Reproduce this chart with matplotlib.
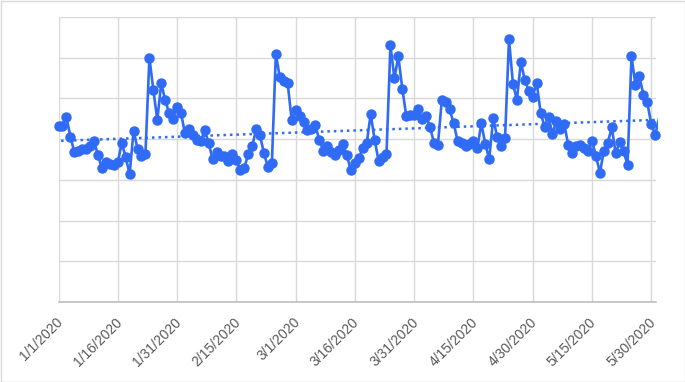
import numpy as np
import pandas as pd
import matplotlib
matplotlib.use("Agg")
from matplotlib import pyplot as plt
from matplotlib.patches import Rectangle
import matplotlib.transforms as mtransforms

# daily values (gridline spacing = 1 unit)
values = [
    4.33, 4.32, 4.55, 4.06, 3.69, 3.72, 3.76, 3.75, 3.84, 3.96,
    3.60, 3.28, 3.45, 3.39, 3.37, 3.43, 3.90, 3.56, 3.14, 4.21,
    3.76, 3.59, 3.64, 6.00, 5.21, 4.47, 5.37, 4.96, 4.64, 4.50,
    4.80, 4.64, 4.14, 4.24, 4.11, 3.97, 3.95, 4.23, 3.90, 3.51,
    3.69, 3.59, 3.58, 3.47, 3.63, 3.49, 3.24, 3.28, 3.64, 3.82,
    4.24, 4.09, 3.65, 3.31, 3.42, 6.09, 5.52, 5.42, 5.37, 4.47,
    4.72, 4.58, 4.43, 4.23, 4.24, 4.34, 3.98, 3.72, 3.82, 3.69,
    3.61, 3.73, 3.88, 3.60, 3.23, 3.42, 3.53, 3.78, 3.90, 4.62,
    3.98, 3.47, 3.57, 3.64, 6.31, 5.50, 6.03, 5.24, 4.57, 4.59,
    4.59, 4.73, 4.50, 4.57, 4.31, 3.91, 3.85, 4.96, 4.91, 4.73,
    4.39, 3.95, 3.90, 3.82, 3.88, 3.96, 3.78, 4.39, 3.88, 3.51,
    4.51, 4.06, 3.83, 4.03, 6.45, 5.36, 4.96, 5.90, 5.45, 5.19,
    5.04, 5.39, 4.65, 4.31, 4.55, 4.13, 4.45, 4.26, 4.36, 3.85,
    3.65, 3.82, 3.85, 3.78, 3.72, 3.96, 3.59, 3.18, 3.70, 3.91,
    4.29, 3.65, 3.93, 3.70, 3.37, 6.04, 5.33, 5.54, 5.09, 4.90,
    4.37, 4.11, 4.52,
]
start_date = "2020-01-01"
tick_step_days = 15
x_max = 151.2

dates = pd.date_range(start_date, periods=len(values), freq="D")
days = np.arange(len(values))
vals = np.array(values)

BLUE = "#2F6BF5"
GRID = "#D9D9D9"

fig = plt.figure(figsize=(6.85, 3.82), dpi=100)
ax = fig.add_axes([58.5 / 685, 1 - 302 / 382, (656 - 58.5) / 685, (302 - 17) / 382])

# connecting line, clipped at the right edge of the plot
line, = ax.plot(days, vals, color=BLUE, lw=1.9, zorder=3)
clip = mtransforms.TransformedBbox(
    mtransforms.Bbox([[-0.02, -0.05], [1.003, 1.05]]), ax.transAxes)
line.set_clip_box(clip)

# markers for the days inside the visible range
inside = days <= x_max
ax.plot(days[inside], vals[inside], ls="none", marker="o", ms=6.5,
        mec=BLUE, mfc=BLUE, zorder=4, clip_on=False)

# linear trendline
slope, icpt = np.polyfit(days, vals, 1)
tx = np.array([-1, len(values) + 1])
ax.plot(tx, slope * tx + icpt, color=BLUE, lw=1.8, ls=(0, (1, 1.6)), zorder=2)

ax.set_xlim(0, x_max)
ax.set_ylim(0, 7)
ax.set_yticks(np.arange(0, 8))
ax.set_yticklabels([])
ticks = np.arange(0, 151, tick_step_days)
ax.set_xticks(ticks)
labels = [f"{d.month}/{d.day}/{d.year}" for d in dates[ticks]]
ax.set_xticklabels(labels, rotation=45, ha="right", va="center",
                   rotation_mode="anchor", fontsize=10, color="#595959",
                   family=["Liberation Sans", "DejaVu Sans"])
ax.tick_params(axis="both", length=0)
ax.tick_params(axis="x", pad=13)
offset = mtransforms.ScaledTranslation(2 / 100, 0, fig.dpi_scale_trans)
for lab in ax.get_xticklabels():
    lab.set_transform(lab.get_transform() + offset)

ax.grid(True, color=GRID, lw=1)
ax.set_axisbelow(True)
for side in ["top", "right", "left"]:
    ax.spines[side].set_visible(False)
ax.spines["bottom"].set_color("#BFBFBF")
ax.spines["bottom"].set_linewidth(1.2)

fig.patches.append(Rectangle((0.5 / 685, 0.5 / 382), 1 - 1 / 685, 1 - 1 / 382,
                             transform=fig.transFigure, fill=False,
                             ec="#D9D9D9", lw=1))

fig.savefig("out.png", dpi=100)
